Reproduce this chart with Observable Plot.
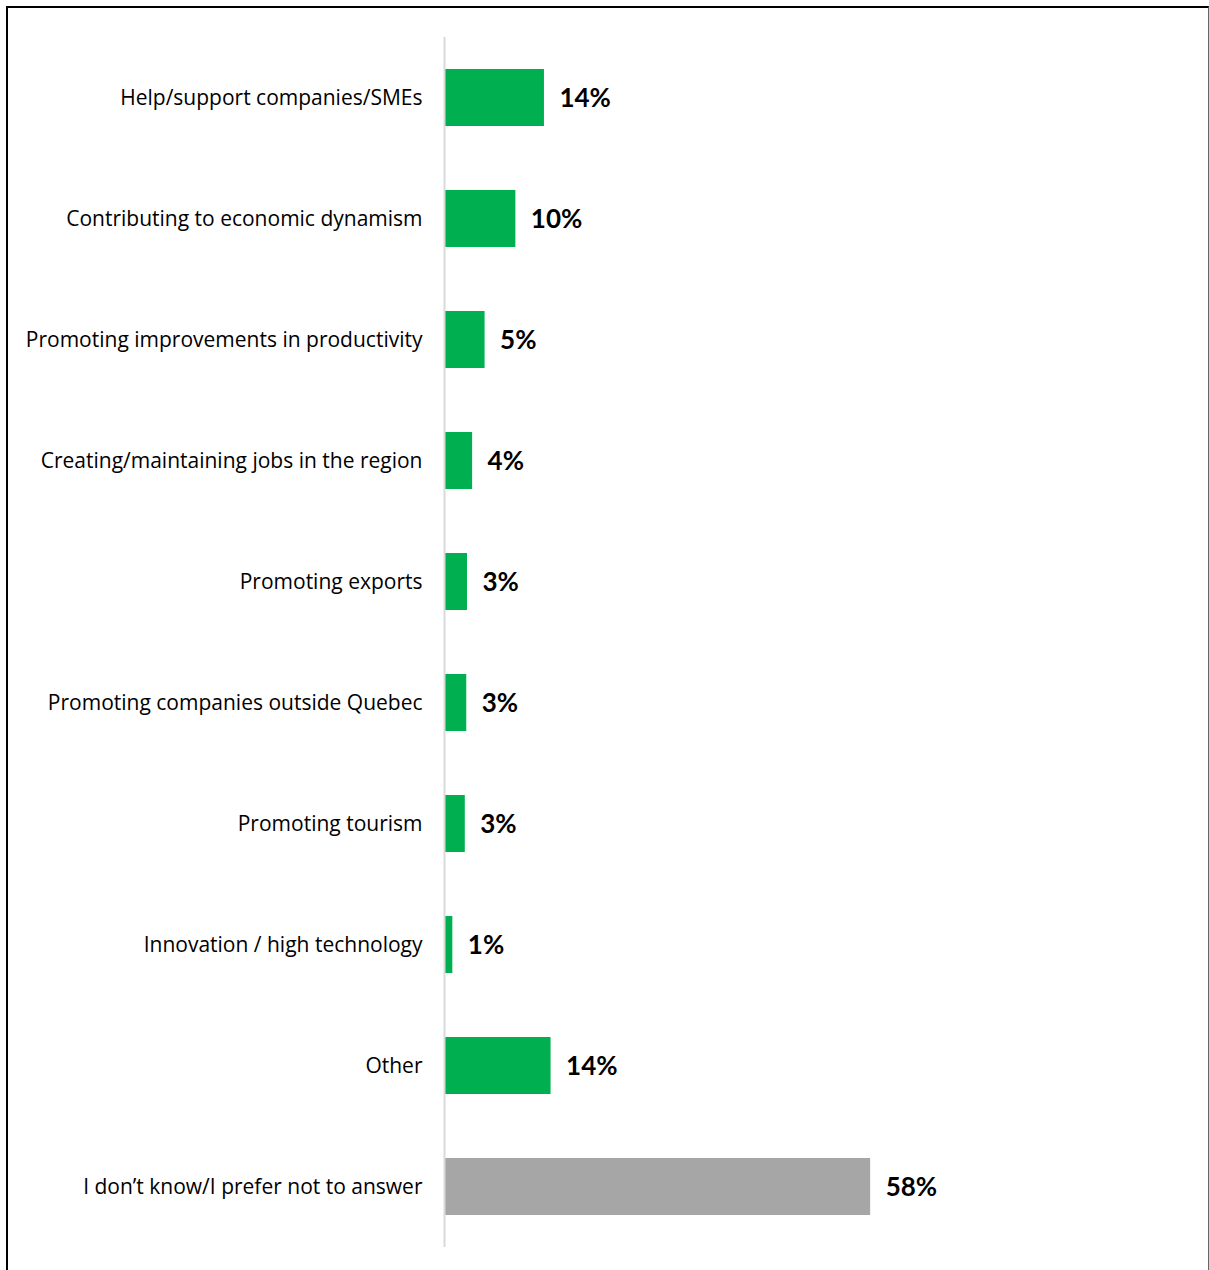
<!DOCTYPE html>
<html>
<head>
<meta charset="utf-8">
<script src="https://cdn.jsdelivr.net/npm/d3@7"></script>
<script src="https://cdn.jsdelivr.net/npm/@observablehq/plot@0.6"></script>
<style>
  html, body { margin: 0; padding: 0; background: #fff; }
  #wrap { position: relative; width: 1209px; height: 1270px; overflow: hidden; }
  #border { position: absolute; left: 6px; top: 6px; width: 1203px; height: 1300px;
            border-top: 2px solid #000; border-left: 2px solid #000; border-right: 1px solid #666; box-sizing: border-box; }
  #chart { position: absolute; left: 0; top: 0; }
</style>
</head>
<body>
<div id="wrap"><div id="border"></div><div id="chart"></div></div>
<script>
const categories = [
  "Help/support companies/SMEs",
  "Contributing to economic dynamism",
  "Promoting improvements in productivity",
  "Creating/maintaining jobs in the region",
  "Promoting exports",
  "Promoting companies outside Quebec",
  "Promoting tourism",
  "Innovation / high technology",
  "Other",
  "I don\u2019t know/I prefer not to answer"
];
const values = [13.5, 9.6, 5.4, 3.7, 3.0, 2.9, 2.7, 1.0, 14.4, 58];
const labels = ["14%", "10%", "5%", "4%", "3%", "3%", "3%", "1%", "14%", "58%"];
const groups = ["main", "main", "main", "main", "main", "main", "main", "main", "main", "dk"];

const data = categories.map((c, i) => ({category: c, value: values[i], label: labels[i], group: groups[i]}));

const chart = Plot.plot({
  width: 1209,
  height: 1270,
  marginLeft: 445,
  marginRight: 31,
  marginTop: 37,
  marginBottom: 23,
  style: {fontFamily: "'Open Sans', sans-serif", background: "transparent"},
  x: {domain: [0, 100], axis: null},
  y: {domain: categories, paddingInner: 0.53, paddingOuter: 0.265, label: null, tickSize: 0, tickPadding: 23},
  color: {domain: ["main", "dk"], range: ["#00b050", "#a6a6a6"]},
  marks: [
    Plot.barX(data, {x: "value", y: "category", fill: "group"}),
    Plot.ruleX([0], {stroke: "#d9d9d9", strokeWidth: 2, dx: -1}),
    Plot.text(data, {x: "value", y: "category", text: "label", textAnchor: "start", dx: 15, dy: 1, fontWeight: "bold", fontSize: 26, fill: "#000", fontFamily: "Lato, sans-serif"}),
    Plot.axisY({tickSize: 0, tickPadding: 23, fontSize: 21, fill: "#000", label: null})
  ]
});
document.getElementById("chart").appendChild(chart);
</script>
</body>
</html>
